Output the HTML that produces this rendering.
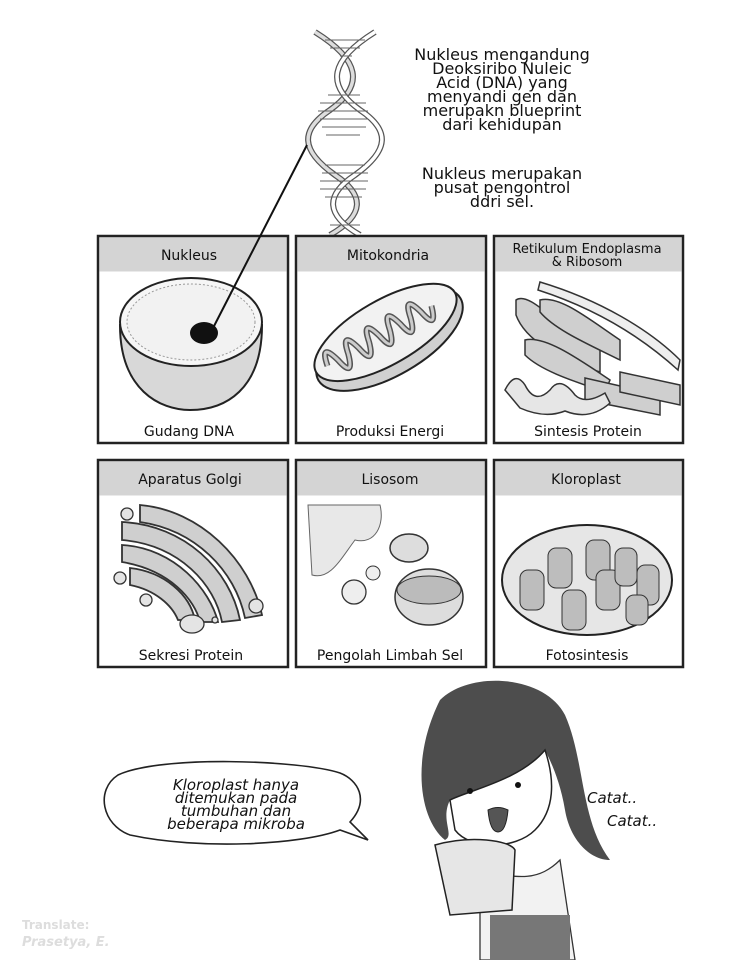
<!DOCTYPE html>
<html><head><meta charset="utf-8"><style>
html,body{margin:0;padding:0;background:#fff;}
svg{display:block}
text{font-family:"DejaVu Sans","Liberation Sans",sans-serif;}
</style></head><body>
<svg width="742" height="960" viewBox="0 0 742 960" xmlns="http://www.w3.org/2000/svg">
<!-- DNA helix -->
<g stroke="#444" stroke-width="1.3" fill="#fff">
  <path d="M315 32 C360 60,365 85,330 110 C300 130,300 150,335 175 C365 195,365 215,330 235" fill="none" stroke-width="6" stroke="#555"/>
  <path d="M315 32 C360 60,365 85,330 110 C300 130,300 150,335 175 C365 195,365 215,330 235" fill="none" stroke-width="3.5" stroke="#ddd"/>
  <path d="M375 32 C330 60,325 85,360 110 C390 130,390 150,355 175 C325 195,325 215,360 235" fill="none" stroke-width="6" stroke="#555"/>
  <path d="M375 32 C330 60,325 85,360 110 C390 130,390 150,355 175 C325 195,325 215,360 235" fill="none" stroke-width="3.5" stroke="#fff"/>
</g>
<g stroke="#666" stroke-width="1">
  <line x1="325" y1="40" x2="365" y2="40"/><line x1="330" y1="48" x2="360" y2="48"/><line x1="340" y1="56" x2="352" y2="56"/>
  <line x1="328" y1="95" x2="360" y2="95"/><line x1="320" y1="103" x2="366" y2="103"/><line x1="318" y1="111" x2="368" y2="111"/><line x1="320" y1="119" x2="368" y2="119"/><line x1="322" y1="127" x2="366" y2="127"/><line x1="326" y1="135" x2="360" y2="135"/>
  <line x1="325" y1="165" x2="365" y2="165"/><line x1="322" y1="173" x2="368" y2="173"/><line x1="320" y1="181" x2="368" y2="181"/><line x1="320" y1="189" x2="366" y2="189"/><line x1="325" y1="197" x2="362" y2="197"/>
  <line x1="330" y1="225" x2="360" y2="225"/>
</g>
<g font-size="16" fill="#111" text-anchor="middle">
  <text x="502" y="60">Nukleus mengandung</text>
  <text x="502" y="74">Deoksiribo Nuleic</text>
  <text x="502" y="88">Acid (DNA) yang</text>
  <text x="502" y="102">menyandi gen dan</text>
  <text x="502" y="116">merupakn blueprint</text>
  <text x="502" y="130">dari kehidupan</text>
  <text x="502" y="179">Nukleus merupakan</text>
  <text x="502" y="193">pusat pengontrol</text>
  <text x="502" y="207">ddri sel.</text>
</g>
<!-- boxes -->
<g stroke="#222" stroke-width="2.5" fill="#fff">
  <rect x="98" y="236" width="190" height="207"/>
  <rect x="296" y="236" width="190" height="207"/>
  <rect x="494" y="236" width="189" height="207"/>
  <rect x="98" y="460" width="190" height="207"/>
  <rect x="296" y="460" width="190" height="207"/>
  <rect x="494" y="460" width="189" height="207"/>
</g>
<g fill="#d4d4d4">
  <rect x="99.5" y="237.5" width="187" height="34"/>
  <rect x="297.5" y="237.5" width="187" height="34"/>
  <rect x="495.5" y="237.5" width="186" height="34"/>
  <rect x="99.5" y="461.5" width="187" height="34"/>
  <rect x="297.5" y="461.5" width="187" height="34"/>
  <rect x="495.5" y="461.5" width="186" height="34"/>
</g>
<g font-size="14" fill="#111" text-anchor="middle">
  <text x="189" y="260">Nukleus</text>
  <text x="388" y="260">Mitokondria</text>
  <text x="587" y="253" font-size="13">Retikulum Endoplasma</text>
  <text x="587" y="266" font-size="13">&amp; Ribosom</text>
  <text x="189" y="436">Gudang DNA</text>
  <text x="390" y="436">Produksi Energi</text>
  <text x="588" y="436">Sintesis Protein</text>
  <text x="190" y="484">Aparatus Golgi</text>
  <text x="390" y="484">Lisosom</text>
  <text x="586" y="484">Kloroplast</text>
  <text x="191" y="660">Sekresi Protein</text>
  <text x="390" y="660">Pengolah Limbah Sel</text>
  <text x="587" y="660">Fotosintesis</text>
</g>
<!-- nucleus -->
<path d="M120 325 C120 390,160 410,190 410 C225 410,262 390,262 325 Z" fill="#d8d8d8" stroke="#222" stroke-width="2"/>
<ellipse cx="191" cy="322" rx="71" ry="44" fill="#f6f6f6" stroke="#222" stroke-width="2"/>
<ellipse cx="191" cy="322" rx="64" ry="38" fill="#f2f2f2" stroke="#999" stroke-dasharray="2 2"/>
<ellipse cx="204" cy="333" rx="14" ry="11" fill="#111"/>
<line x1="307" y1="145" x2="212" y2="330" stroke="#111" stroke-width="2"/>
<!-- mito -->
<g transform="rotate(-30 387 335)">
<ellipse cx="387" cy="340" rx="82" ry="36" fill="#d0d0d0" stroke="#222" stroke-width="2"/>
<ellipse cx="387" cy="332" rx="80" ry="32" fill="#f2f2f2" stroke="#222" stroke-width="2"/>
<path d="M320 332 q5 -25 12 0 q5 25 12 0 q5 -25 12 0 q5 25 12 0 q5 -25 12 0 q5 25 12 0 q5 -25 12 0 q5 25 12 0 q5 -25 12 0 q5 25 12 0" fill="none" stroke="#555" stroke-width="6"/>
<path d="M320 332 q5 -25 12 0 q5 25 12 0 q5 -25 12 0 q5 25 12 0 q5 -25 12 0 q5 25 12 0 q5 -25 12 0 q5 25 12 0 q5 -25 12 0 q5 25 12 0" fill="none" stroke="#ccc" stroke-width="3"/>
</g>
<!-- ER -->
<g fill="#cfcfcf" stroke="#333" stroke-width="1.5">
<path d="M540 282 C600 300,650 330,680 360 L678 370 C645 340,600 310,538 290 Z" fill="#eee"/>
<path d="M516 300 C530 290,560 330,600 350 L600 372 C560 360,525 340,516 315 Z"/>
<path d="M540 300 C560 295,590 320,620 340 L620 360 C590 345,555 330,540 312 Z"/>
<path d="M525 340 C545 335,580 360,610 380 L605 392 C570 380,540 370,525 355 Z"/>
<path d="M585 378 L660 395 L660 415 L585 400 Z"/>
<path d="M620 372 L680 385 L680 405 L620 392 Z"/>
<path d="M505 390 q10 -20 20 -5 q10 20 25 5 q10 -15 25 5 q10 10 30 -2 l5 10 q-20 18 -45 8 q-20 8 -45 -3 z" fill="#e6e6e6"/>
</g>
<!-- golgi -->
<g fill="#cfcfcf" stroke="#333" stroke-width="1.8">
<path d="M140 505 C200 510,250 560,262 615 L245 618 C235 570,195 530,140 522 Z"/>
<path d="M122 522 C185 525,230 570,240 620 L222 622 C215 585,180 545,122 540 Z"/>
<path d="M122 545 C175 548,210 590,218 622 L200 622 C195 600,170 570,122 562 Z"/>
<path d="M130 568 C165 572,190 595,195 620 L178 620 C172 605,155 590,130 585 Z"/>
</g>
<g fill="#e4e4e4" stroke="#333" stroke-width="1.3">
<circle cx="127" cy="514" r="6"/><circle cx="120" cy="578" r="6"/><circle cx="256" cy="606" r="7"/><circle cx="146" cy="600" r="6"/>
<ellipse cx="192" cy="624" rx="12" ry="9"/><circle cx="215" cy="620" r="3"/>
</g>
<!-- lysosome -->
<path d="M308 505 L380 505 C385 525,375 545,355 540 C340 560,330 580,312 575 Z" fill="#e8e8e8" stroke="#666"/>
<ellipse cx="409" cy="548" rx="19" ry="14" fill="#ddd" stroke="#333" stroke-width="1.5"/>
<ellipse cx="429" cy="597" rx="34" ry="28" fill="#ddd" stroke="#333" stroke-width="1.5"/>
<ellipse cx="429" cy="590" rx="32" ry="14" fill="#bbb" stroke="#333"/>
<circle cx="354" cy="592" r="12" fill="#eee" stroke="#333" stroke-width="1.3"/>
<circle cx="373" cy="573" r="7" fill="#eee" stroke="#333"/>
<!-- chloroplast -->
<ellipse cx="587" cy="580" rx="85" ry="55" fill="#e6e6e6" stroke="#222" stroke-width="2"/>
<g fill="#bdbdbd" stroke="#333" stroke-width="1">
<rect x="520" y="570" width="24" height="40" rx="8"/>
<rect x="548" y="548" width="24" height="40" rx="8"/>
<rect x="562" y="590" width="24" height="40" rx="8"/>
<rect x="586" y="540" width="24" height="40" rx="8"/>
<rect x="596" y="570" width="24" height="40" rx="8"/>
<rect x="615" y="548" width="22" height="38" rx="8"/>
<rect x="637" y="565" width="22" height="40" rx="8"/>
<rect x="626" y="595" width="22" height="30" rx="8"/>
</g>
<!-- speech bubble -->
<path d="M350 822 C370 800,358 780,340 773 C300 760,160 755,118 775 C95 790,102 825,130 835 C200 850,300 845,340 830 L368 840 Z" fill="#fff" stroke="#222" stroke-width="1.6"/>
<g font-size="15" fill="#111" text-anchor="middle" font-style="italic">
<text x="236" y="790">Kloroplast hanya</text>
<text x="236" y="803">ditemukan pada</text>
<text x="236" y="816">tumbuhan dan</text>
<text x="236" y="829">beberapa mikroba</text>
</g>
<text x="587" y="803" font-size="15" font-style="italic" fill="#111">Catat..</text>
<text x="607" y="826" font-size="15" font-style="italic" fill="#111">Catat..</text>
<g font-size="12" font-weight="bold" fill="#ddd">
<text x="22" y="929">Translate:</text>
<text x="22" y="946" font-style="italic" font-size="13">Prasetya, E.</text>
</g>
<!-- girl -->
<path d="M440 700 C470 670,545 675,565 715 C585 760,580 820,610 860 C590 860,570 840,565 810 C560 780,550 760,545 750 C520 780,470 790,450 800 C440 820,455 835,445 840 C420 820,410 760,440 700 Z" fill="#4d4d4d"/>
<path d="M450 800 C470 790,520 780,545 750 C555 780,555 810,535 830 C515 850,470 850,455 830 Z" fill="#fff" stroke="#222" stroke-width="1.5"/>
<circle cx="470" cy="791" r="3" fill="#111"/><circle cx="518" cy="785" r="3" fill="#111"/>
<path d="M488 810 q10 -5 20 0 q-2 22 -10 22 q-8 0 -10 -22 z" fill="#555" stroke="#222"/>
<path d="M480 870 C520 880,540 880,560 860 L575 960 L480 960 Z" fill="#f2f2f2" stroke="#333" stroke-width="1.3"/>
<path d="M435 845 C470 835,510 840,515 850 L512 910 L450 915 Z" fill="#e6e6e6" stroke="#222" stroke-width="1.5"/>
<rect x="490" y="915" width="80" height="45" fill="#777"/>
</svg>
</body></html>
